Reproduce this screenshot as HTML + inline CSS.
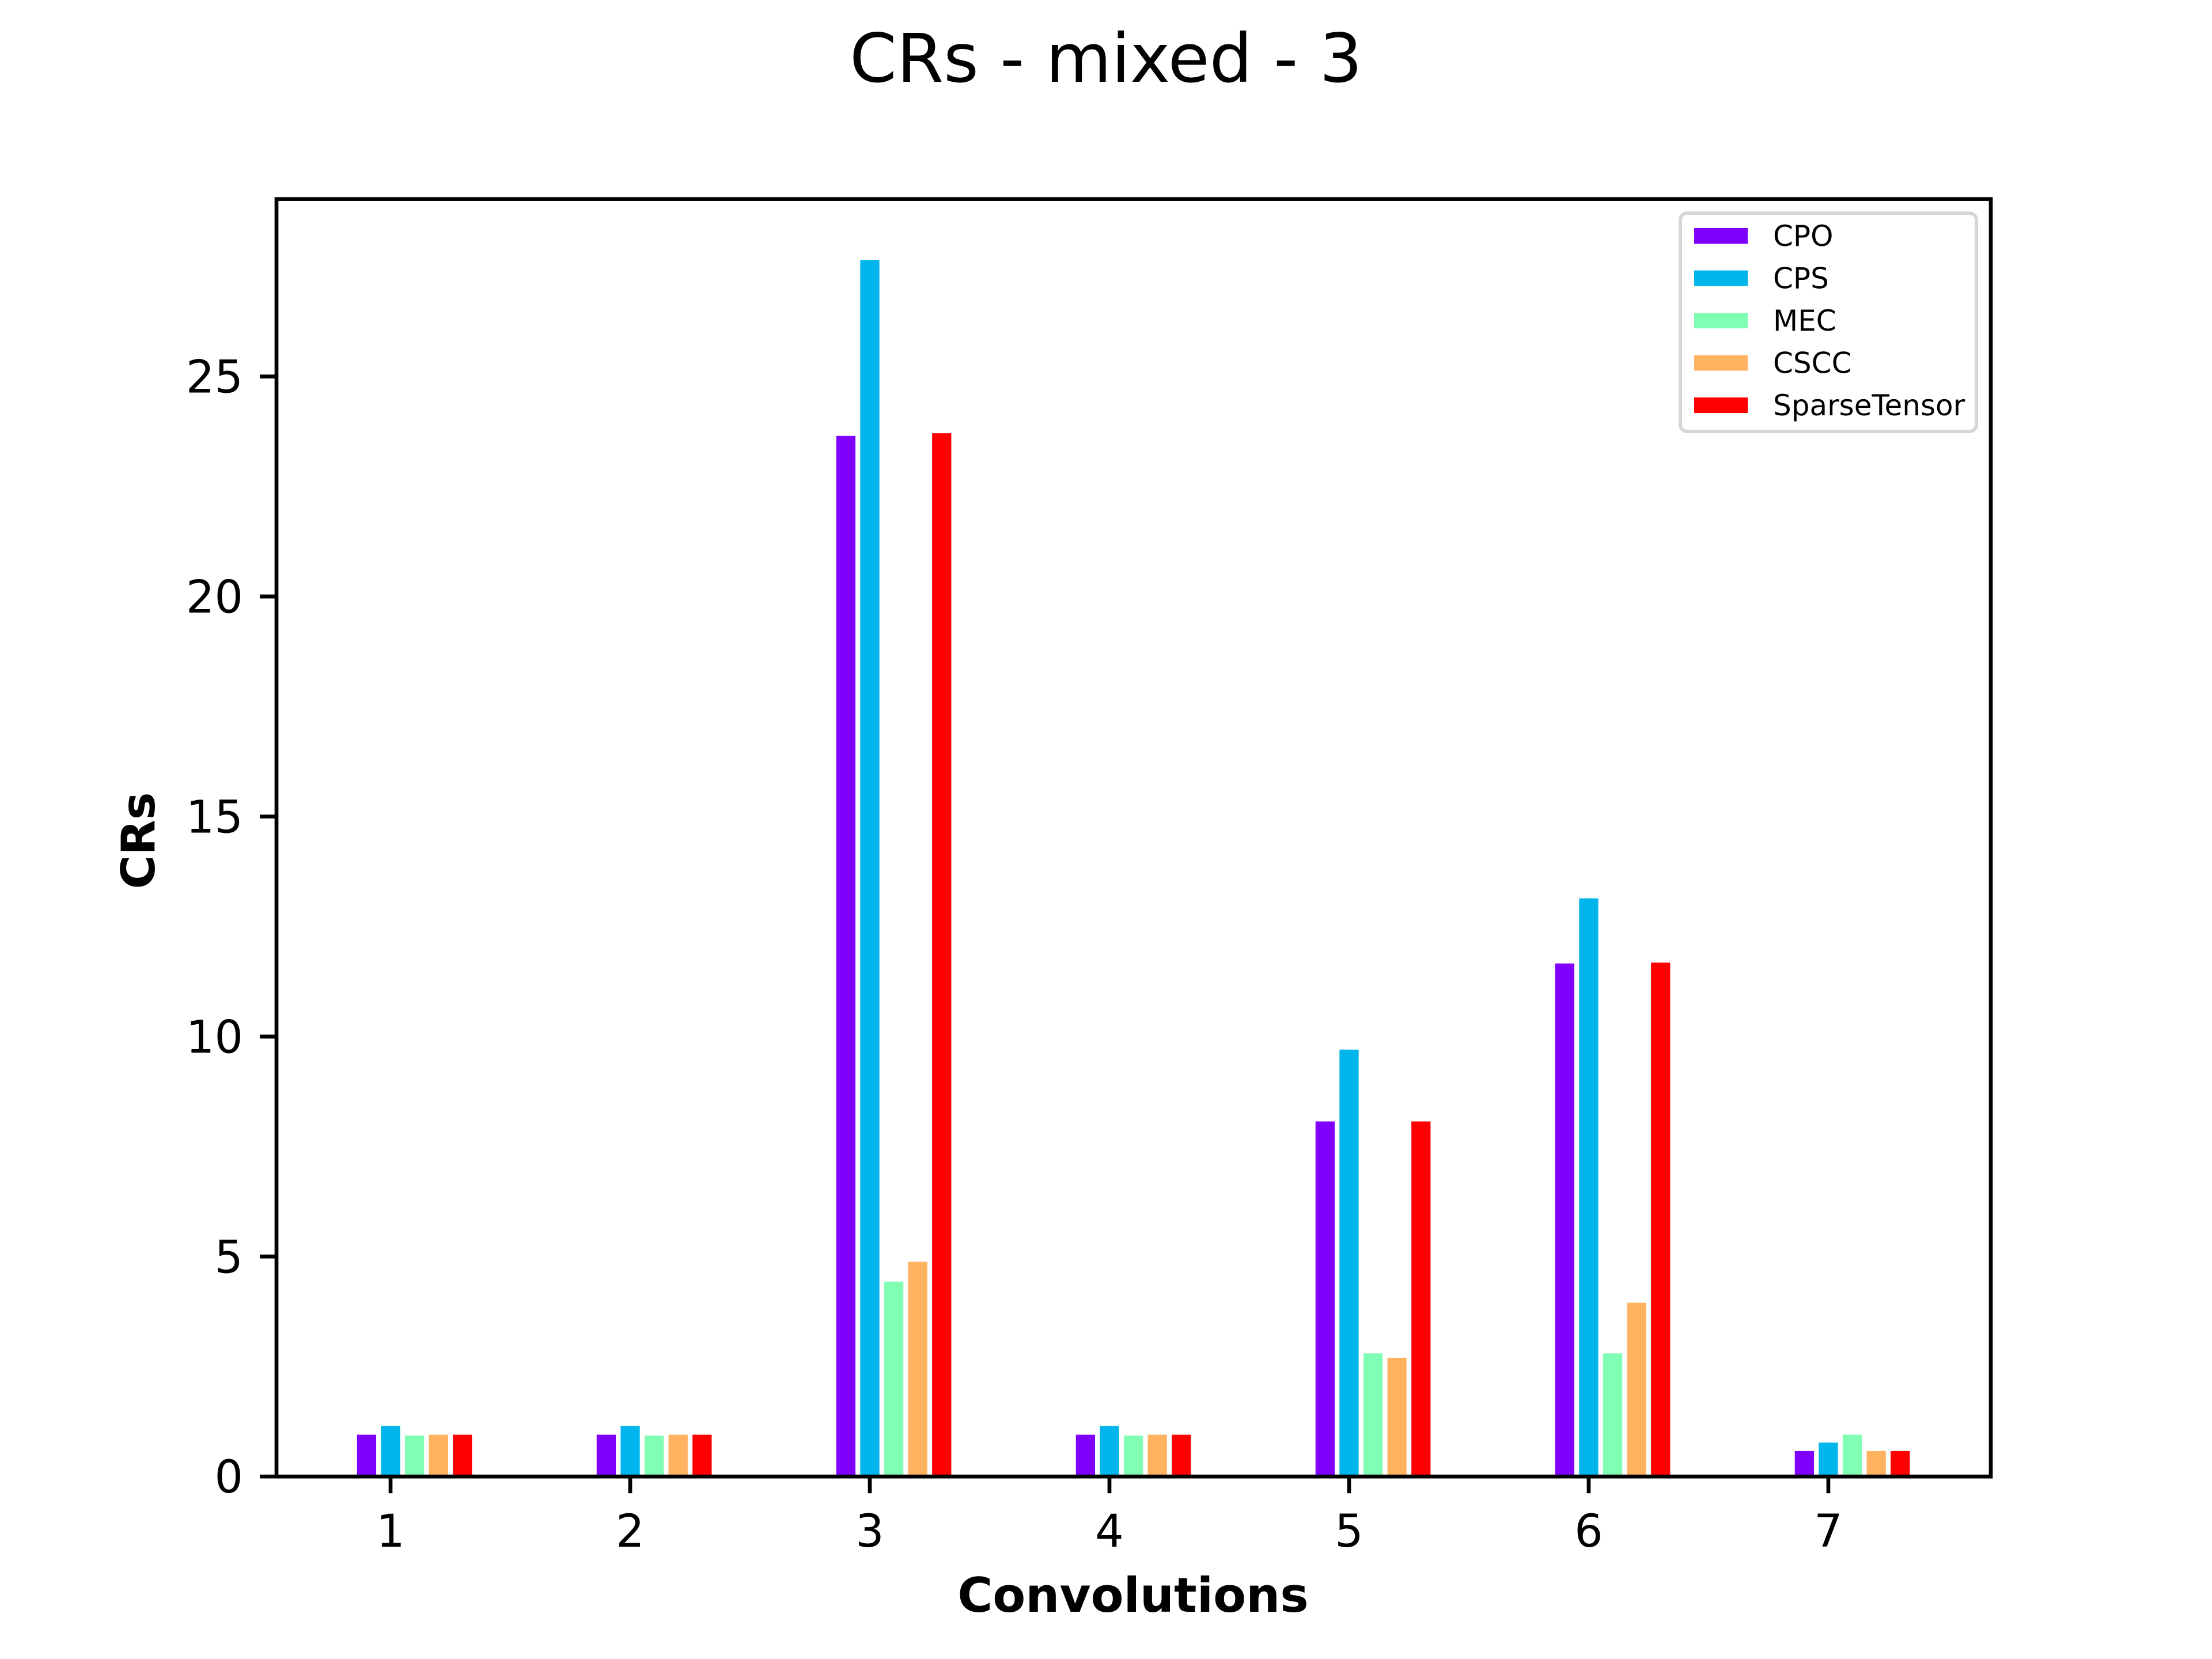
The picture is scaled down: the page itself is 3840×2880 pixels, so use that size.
<!DOCTYPE html>
<html><head><meta charset="utf-8"><style>
html,body{margin:0;padding:0;background:#fff}
svg{display:block}
text{font-family:"DejaVu Sans","Liberation Sans",sans-serif;fill:#000}
</style></head><body>
<svg id="chart" width="3840" height="2880" viewBox="0 0 3840 2880" xmlns="http://www.w3.org/2000/svg">
<rect x="0" y="0" width="3840" height="2880" fill="#fff"/>
<text x="1920" y="142" font-size="117" text-anchor="middle">CRs - mixed - 3</text>
<g id="bars"></g>
<g id="axes"></g>
<g id="legend"></g>
</svg>
<script>
const categories = [1, 2, 3, 4, 5, 6, 7];
const seriesNames = ["CPO", "CPS", "MEC", "CSCC", "SparseTensor"];
const seriesColors = ["#8000ff", "#00b5eb", "#80ffb4", "#ffb360", "#ff0000"];
const cpo = [0.95, 0.95, 23.65, 0.95, 8.07, 11.66, 0.58];
const cps = [1.15, 1.15, 27.65, 1.15, 9.70, 13.14, 0.77];
const mec = [0.93, 0.93, 4.43, 0.93, 2.80, 2.80, 0.95];
const cscc = [0.95, 0.95, 4.88, 0.95, 2.70, 3.95, 0.58];
const sparse = [0.95, 0.95, 23.71, 0.95, 8.07, 11.68, 0.58];
const yTicks = [0, 5, 10, 15, 20, 25];

const NS = "http://www.w3.org/2000/svg";
const series = [cpo, cps, mec, cscc, sparse];
const L = 480, R = 3456, T = 345.6, B = 2563.2;
const barW = 0.08, off = 0.1;
const xmin0 = categories[0] - off - barW / 2;
const xmax0 = categories[categories.length - 1] + 3 * off + barW / 2;
const xmin = xmin0 - 0.336, xmax = xmax0 + 0.338;
let ymaxData = 0;
series.forEach(s => s.forEach(v => { if (v > ymaxData) ymaxData = v; }));
const ymax = ymaxData * 1.05;
function xs(v) { return L + (v - xmin) / (xmax - xmin) * (R - L); }
function ys(v) { return B - v / ymax * (B - T); }
function mk(tag, attrs, parent) {
  const el = document.createElementNS(NS, tag);
  for (const k in attrs) el.setAttribute(k, attrs[k]);
  parent.appendChild(el);
  return el;
}
const gb = document.getElementById("bars");
series.forEach((s, si) => {
  s.forEach((v, ci) => {
    const c = categories[ci] + (si - 1) * off;
    const x0 = xs(c - barW / 2), x1 = xs(c + barW / 2);
    const r = mk("rect", {x: x0, y: ys(v), width: x1 - x0, height: ys(0) - ys(v), fill: seriesColors[si]}, gb);
    
    
  });
});
const ga = document.getElementById("axes");
const frame = mk("rect", {x: L, y: T, width: R - L, height: B - T, fill: "none", stroke: "#000", "stroke-width": 6.7}, ga);


categories.forEach(c => {
  const x = xs(c);
  const t = mk("line", {x1: x, x2: x, y1: B, y2: B + 29, stroke: "#000", "stroke-width": 6.7}, ga);
  
  
  const lb = mk("text", {x: x, y: B + 122, "font-size": 78, "text-anchor": "middle"}, ga);
  lb.textContent = c;
  
  
});
yTicks.forEach(v => {
  const y = ys(v);
  const t = mk("line", {x1: L - 29, x2: L, y1: y, y2: y, stroke: "#000", "stroke-width": 6.7}, ga);
  
  
  const lb = mk("text", {x: L - 58, y: y + 28, "font-size": 78, "text-anchor": "end"}, ga);
  lb.textContent = v;
  
  
});
const xl = mk("text", {x: 1967, y: 2798, "font-size": 83, "font-weight": "bold", "text-anchor": "middle"}, ga);
xl.textContent = "Convolutions";


const yl = mk("text", {x: 0, y: 0, "font-size": 80, "font-weight": "bold", "text-anchor": "middle", transform: "translate(268," + ((T + B) / 2 + 5) + ") rotate(-90)"}, ga);
yl.textContent = "CRs";


const gl = document.getElementById("legend");
const box = mk("rect", {x: 2917, y: 370, width: 514, height: 379, rx: 12, fill: "#fff", stroke: "#d6d6d6", "stroke-width": 6}, gl);


seriesNames.forEach((n, i) => {
  const y = 409 + i * 73.5;
  const p = mk("rect", {x: 2941, y: y - 13, width: 93, height: 27, fill: seriesColors[i]}, gl);
  
  
  const t = mk("text", {x: 3078, y: y + 18, "font-size": 50}, gl);
  t.textContent = n;
  
  
});
</script>
</body></html>
